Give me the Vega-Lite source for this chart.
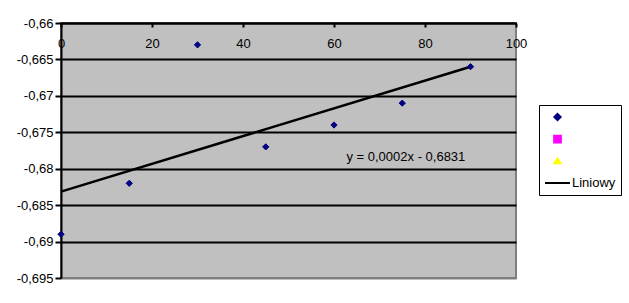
{
  "$schema": "https://vega.github.io/schema/vega-lite/v6.json",
  "width": 455,
  "height": 255,
  "autosize": {"type": "none"},
  "padding": {"left": 61, "top": 23, "right": 113, "bottom": 25},
  "background": "white",
  "config": {
    "font": "Liberation Sans",
    "view": {"fill": "#C0C0C0", "stroke": "#808080", "strokeWidth": 2}
  },
  "datasets": {
    "points": [
      {"x": 0, "y": -0.689, "series": "s1"},
      {"x": 15, "y": -0.682, "series": "s1"},
      {"x": 30, "y": -0.663, "series": "s1"},
      {"x": 45, "y": -0.677, "series": "s1"},
      {"x": 60, "y": -0.674, "series": "s1"},
      {"x": 75, "y": -0.671, "series": "s1"},
      {"x": 90, "y": -0.666, "series": "s1"}
    ],
    "note": [
      {"x": 75.8, "y": -0.6784, "label": "y = 0,0002x - 0,6831"}
    ]
  },
  "layer": [
    {
      "data": {"name": "points"},
      "transform": [{"regression": "y", "on": "x"}],
      "mark": {"type": "line", "color": "black", "strokeWidth": 2.5},
      "encoding": {
        "x": {"field": "x", "type": "quantitative"},
        "y": {"field": "y", "type": "quantitative"}
      }
    },
    {
      "data": {"name": "points"},
      "mark": {"type": "point", "filled": true, "size": 625, "opacity": 1, "strokeWidth": 1},
      "encoding": {
        "x": {
          "field": "x", "type": "quantitative",
          "scale": {"domain": [0, 100], "nice": false, "zero": false},
          "axis": {
            "orient": "top", "title": null, "values": [0, 20, 40, 60, 80, 100],
            "grid": false, "domainColor": "black", "domainWidth": 2,
            "tickColor": "black", "tickWidth": 2, "tickSize": -4,
            "labelBaseline": "top", "labelPadding": -10, "labelFlush": false, "labelOverlap": false,
            "labelFont": "Liberation Sans", "labelFontSize": 13, "labelColor": "black"
          }
        },
        "y": {
          "field": "y", "type": "quantitative",
          "scale": {"domain": [-0.695, -0.66], "nice": false, "zero": false},
          "axis": {
            "orient": "left", "title": null,
            "tickCount": 8, "labelOverlap": false,
            "grid": true,
            "gridColor": {"condition": {"test": "datum.value < -0.6949", "value": "#808080"}, "value": "black"},
            "gridWidth": 2, "gridOpacity": 1,
            "domainColor": "black", "domainWidth": 2,
            "tickColor": "black", "tickWidth": 2, "tickSize": 6,
            "labelPadding": 2, "labelFont": "Liberation Sans", "labelFontSize": 13, "labelColor": "black",
            "labelExpr": "'-' + replace(format(-datum.value, '.3~f'), '.', ',')"
          }
        },
        "shape": {
          "field": "series", "type": "nominal",
          "scale": {
            "domain": ["s1", "s2", "s3", "Liniowy"],
            "range": ["M0,-0.25L0.25,0L0,0.25L-0.25,0Z", "M-0.27,-0.27H0.27V0.27H-0.27Z", "M0,-0.2L0.25,0.17L-0.25,0.17Z", "M-1,0H1"]
          },
          "legend": {
            "title": null, "orient": "none", "legendX": 478, "legendY": 82,
            "padding": 5, "clipHeight": 14, "rowPadding": 8, "labelOffset": 1,
            "symbolSize": 625, "symbolStrokeWidth": 2, "symbolOpacity": 1,
            "strokeColor": "black",
            "labelFont": "Liberation Sans", "labelFontSize": 13, "labelColor": "black",
            "labelExpr": "datum.value === 'Liniowy' ? 'Liniowy' : ''",
            "encode": {
              "legend": {"strokeWidth": {"value": 2}},
              "symbols": {"strokeWidth": {"value": 2}}
            }
          }
        },
        "fill": {
          "field": "series", "type": "nominal",
          "scale": {"domain": ["s1", "s2", "s3", "Liniowy"], "range": ["#000080", "#FF00FF", "#FFFF00", "transparent"]}
        },
        "stroke": {
          "field": "series", "type": "nominal",
          "scale": {"domain": ["s1", "s2", "s3", "Liniowy"], "range": ["#000080", "#FF00FF", "#FFFF00", "black"]}
        }
      }
    },
    {
      "data": {"name": "note"},
      "mark": {"type": "text", "font": "Liberation Sans", "fontSize": 13, "color": "black", "align": "center", "baseline": "middle"},
      "encoding": {
        "x": {"field": "x", "type": "quantitative"},
        "y": {"field": "y", "type": "quantitative"},
        "text": {"field": "label"}
      }
    }
  ]
}
